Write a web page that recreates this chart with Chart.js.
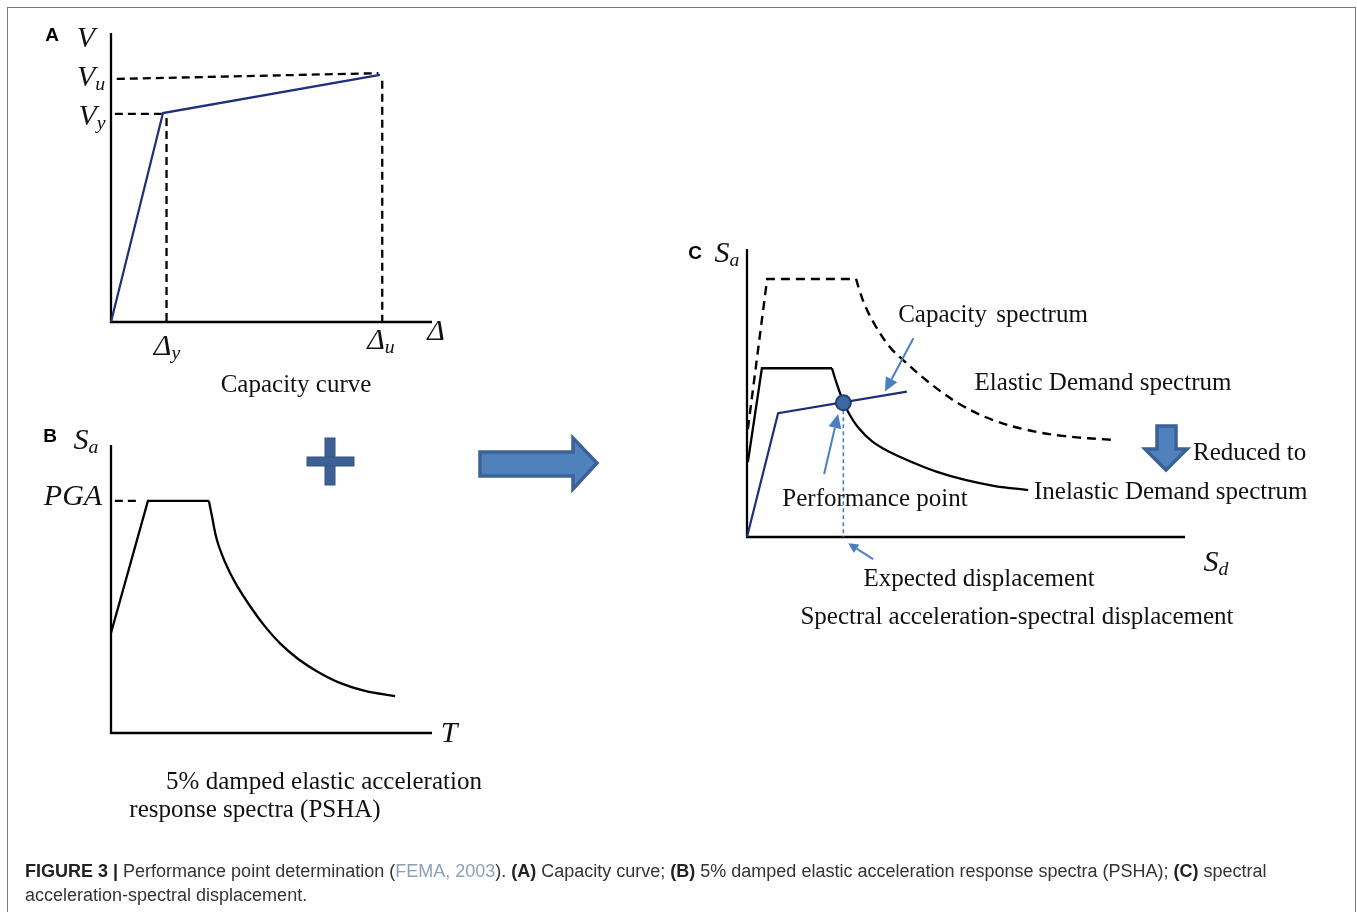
<!DOCTYPE html>
<html>
<head>
<meta charset="utf-8">
<title>Performance point determination</title>
<script src="https://cdn.jsdelivr.net/npm/chart.js@4.4.1/dist/chart.umd.min.js"></script>
<style>
  html, body { margin: 0; padding: 0; background: #fff; width: 1357px; height: 912px; overflow: hidden; }
  #frame { position: absolute; left: 7px; top: 7px; width: 1347px; height: 930px; border: 1px solid #7a7a7a; }
  canvas { position: absolute; }
  .lbl { position: absolute; transform: translate(-50%, -50%); white-space: nowrap;
         font-family: "Liberation Serif", "DejaVu Serif", serif; font-size: 25px; line-height: 1; color: #111; }
  .lbl.l { transform: translate(0, -50%); }
  .ax { font-style: italic; font-size: 30px; }
  .ax sub { font-size: 0.66em; vertical-align: -0.22em; line-height: 0; }
  .tag { position: absolute; transform: translate(-50%, -50%); font: bold 19px "Liberation Sans", Arial, sans-serif; color: #000; }
  #caption { position: absolute; left: 25px; top: 859px; width: 1320px; font-family: "Liberation Sans", Arial, sans-serif;
             font-size: 18px; line-height: 24px; color: #333; white-space: nowrap; }
  #caption b { color: #222; }
  #caption .ref { color: #8da0b9; }
  svg { position: absolute; left: 0; top: 0; }
</style>
</head>
<body>
<div id="frame"></div>

<canvas id="chartA" width="341" height="309" style="left:101px;top:23px"></canvas>
<canvas id="chartB" width="341" height="308" style="left:101px;top:435px"></canvas>
<canvas id="chartC" width="478" height="351" style="left:727px;top:229px"></canvas>

<svg width="1357" height="912">
  <!-- plus sign -->
  <rect x="325" y="438" width="10" height="47" fill="#3d6194" stroke="#34547f" stroke-width="1"/>
  <rect x="307" y="457" width="47" height="9" fill="#3d6194" stroke="#34547f" stroke-width="1"/>
  <!-- big arrow -->
  <polygon points="480,452 573,452 573,438 597,463 573,489 573,476 480,476"
           fill="#4f81bd" stroke="#3b6197" stroke-width="3.5" stroke-linejoin="miter"/>
  <!-- reduced-to arrow -->
  <polygon points="1157,426 1176,426 1176,449 1187,449 1166,470 1145,449 1157,449"
           fill="#4f81bd" stroke="#3b6197" stroke-width="3.5"/>
</svg>

<!-- panel A labels -->
<div class="tag" style="left:52px;top:35px">A</div>
<div class="lbl ax" style="left:86px;top:37px">V</div>
<div class="lbl ax" style="left:91px;top:76px">V<sub>u</sub></div>
<div class="lbl ax" style="left:92px;top:115px">V<sub>y</sub></div>
<div class="lbl ax" style="left:167px;top:345px">Δ<sub>y</sub></div>
<div class="lbl ax" style="left:381px;top:339px">Δ<sub>u</sub></div>
<div class="lbl ax" style="left:436px;top:330px">Δ</div>
<div class="lbl" style="left:296px;top:383px">Capacity curve</div>

<!-- panel B labels -->
<div class="tag" style="left:50px;top:436px">B</div>
<div class="lbl ax" style="left:86px;top:439px">S<sub>a</sub></div>
<div class="lbl ax" style="left:73px;top:495px">PGA</div>
<div class="lbl ax" style="left:449px;top:732px">T</div>
<div class="lbl" style="left:324px;top:780px">5% damped elastic acceleration</div>
<div class="lbl" style="left:255px;top:808px">response spectra (PSHA)</div>

<!-- panel C labels -->
<div class="tag" style="left:695px;top:253px">C</div>
<div class="lbl ax" style="left:727px;top:252px">S<sub>a</sub></div>
<div class="lbl ax" style="left:1216px;top:561px">S<sub>d</sub></div>
<div class="lbl" style="left:993px;top:313px;word-spacing:3px">Capacity spectrum</div>
<div class="lbl" style="left:1103px;top:381px">Elastic Demand spectrum</div>
<div class="lbl l" style="left:1193px;top:451px">Reduced to</div>
<div class="lbl l" style="left:1034px;top:490px">Inelastic Demand spectrum</div>
<div class="lbl" style="left:875px;top:497px">Performance point</div>
<div class="lbl" style="left:979px;top:577px">Expected displacement</div>
<div class="lbl" style="left:1017px;top:615px">Spectral acceleration-spectral displacement</div>

<div id="caption"><b>FIGURE 3 |</b> Performance point determination (<span class="ref">FEMA, 2003</span>). <b>(A)</b> Capacity curve; <b>(B)</b> 5% damped elastic acceleration response spectra (PSHA); <b>(C)</b> spectral<br>acceleration-spectral displacement.</div>

<script>
// All panels use a 0..100 schematic scale on both axes.

// ── Panel A: capacity curve ──────────────────────────────────────────────
const capacityCurve = [[0, 0], [16.2, 72.3], [83.8, 85.5]];
const yieldShearLine = [[1.2, 72.0], [15.8, 72.0]];
const yieldDispLine = [[17.3, 70.6], [17.3, 0]];
const ultShearLine = [[1.8, 84.1], [83.3, 86.1]];
const ultDispLine = [[84.5, 83.5], [84.5, 0]];

// ── Panel B: 5% damped elastic response spectrum ─────────────────────────
const pshaPlateau = [[0, 34.7], [11.5, 80.6], [30.5, 80.6]];
const pshaDecay = [[30.5, 80.6], [31.5, 75.0], [33.0, 67.0], [35.5, 59.4], [38.6, 52.4],
                   [42.7, 45.1], [47.4, 37.8], [52.6, 31.2], [58.3, 25.7], [64.5, 21.2],
                   [71.3, 17.4], [79.1, 14.6], [88.5, 12.8]];
const pgaLine = [[1.2, 80.6], [9.0, 80.6]];

// ── Panel C: ADRS format ─────────────────────────────────────────────────
const elasticPlateau = [[0.2, 37.5], [4.6, 89.6], [24.9, 89.6]];
const elasticDecay = [[24.9, 89.6], [25.8, 85.1], [27.2, 79.5], [29.5, 72.9], [32.6, 66.0],
                      [36.1, 60.8], [40.0, 55.6], [44.1, 50.7], [49.3, 45.5], [56.2, 40.6],
                      [63.9, 37.2], [72.1, 35.1], [83.6, 33.7]];
const inelasticPlateau = [[0.2, 26.0], [3.4, 58.6], [19.4, 58.6]];
const inelasticDecay = [[19.4, 58.6], [20.3, 54.1], [21.5, 48.9], [23.1, 43.4], [25.3, 38.2],
                        [28.5, 33.3], [32.6, 29.5], [37.7, 26.0], [43.4, 22.6], [49.8, 19.8],
                        [56.6, 17.7], [64.2, 16.3]];
const capacitySpectrum = [[0, 0], [7.1, 43.0], [36.5, 50.5]];
const performancePoint = [[22.0, 46.6]];
const expectedDispLine = [[22.0, 44.0], [22.0, 0]];
// pointer arrows: [tail, tip]
const pointerArrowsC = [
  [[38.0, 69.0], [31.5, 50.5]],
  [[17.6, 21.9], [20.8, 42.7]],
  [[28.8, -7.7], [23.1, -2.2]],
];

const NAVY = "#1d2f7a";
const BLUE = "#4a80c2";

const pts = arr => arr.map(([x, y]) => ({ x, y }));

function line(data, extra = {}) {
  return {
    data: pts(data),
    showLine: true,
    borderColor: "#000",
    borderWidth: 2.3,
    pointRadius: 0,
    tension: 0,
    fill: false,
    clip: false,
    ...extra,
  };
}
const dashed = { borderDash: [8, 5] };
const smooth = { tension: 0.4 };

// draws the L-shaped axes through the chart's own scales
const axisLines = {
  id: "axisLines",
  beforeDatasetsDraw(chart) {
    const { ctx, scales: { x, y } } = chart;
    ctx.save();
    ctx.strokeStyle = "#000";
    ctx.lineWidth = 2.3;
    ctx.beginPath();
    ctx.moveTo(x.getPixelForValue(0), y.getPixelForValue(100));
    ctx.lineTo(x.getPixelForValue(0), y.getPixelForValue(0));
    ctx.lineTo(x.getPixelForValue(100), y.getPixelForValue(0));
    ctx.stroke();
    ctx.restore();
  },
};

const pointerArrows = {
  id: "pointerArrows",
  afterDatasetsDraw(chart, args, opts) {
    if (!opts.list) return;
    const { ctx, scales: { x, y } } = chart;
    ctx.save();
    ctx.strokeStyle = opts.color;
    ctx.fillStyle = opts.color;
    ctx.lineWidth = 2;
    opts.list.forEach(([[x0, y0], [x1, y1]], i) => {
      const ax = x.getPixelForValue(x0), ay = y.getPixelForValue(y0);
      const bx = x.getPixelForValue(x1), by = y.getPixelForValue(y1);
      const ang = Math.atan2(by - ay, bx - ax);
      const len = i === 2 ? 10 : 14, half = i === 2 ? 5 : 6.5;
      const hx = bx - Math.cos(ang) * len, hy = by - Math.sin(ang) * len;
      ctx.beginPath();
      ctx.moveTo(ax, ay);
      ctx.lineTo(hx, hy);
      ctx.stroke();
      ctx.beginPath();
      ctx.moveTo(bx, by);
      ctx.lineTo(hx + Math.sin(ang) * half, hy - Math.cos(ang) * half);
      ctx.lineTo(hx - Math.sin(ang) * half, hy + Math.cos(ang) * half);
      ctx.closePath();
      ctx.fill();
    });
    ctx.restore();
  },
};

function panelOptions(padding, arrows) {
  return {
    responsive: false,
    animation: false,
    layout: { padding },
    plugins: {
      legend: { display: false },
      tooltip: { enabled: false },
      pointerArrows: arrows || {},
    },
    scales: {
      x: { type: "linear", min: 0, max: 100, display: false },
      y: { type: "linear", min: 0, max: 100, display: false },
    },
  };
}

new Chart(document.getElementById("chartA"), {
  type: "scatter",
  data: {
    datasets: [
      line(capacityCurve, { borderColor: NAVY, borderWidth: 2.2 }),
      line(yieldShearLine, dashed),
      line(yieldDispLine, dashed),
      line(ultShearLine, dashed),
      line(ultDispLine, dashed),
    ],
  },
  options: panelOptions(10),
  plugins: [axisLines],
});

new Chart(document.getElementById("chartB"), {
  type: "scatter",
  data: {
    datasets: [
      line(pshaPlateau),
      line(pshaDecay, smooth),
      line(pgaLine, dashed),
    ],
  },
  options: panelOptions(10),
  plugins: [axisLines],
});

new Chart(document.getElementById("chartC"), {
  type: "scatter",
  data: {
    datasets: [
      line(performancePoint, {
        showLine: false, pointRadius: 7.5, pointBackgroundColor: "#3b69a3",
        pointBorderColor: "#22406f", pointBorderWidth: 2,
      }),
      line(capacitySpectrum, { borderColor: NAVY, borderWidth: 2.2 }),
      line(inelasticPlateau),
      line(inelasticDecay, smooth),
      line(elasticPlateau, { borderDash: [9, 6], borderWidth: 2.4 }),
      line(elasticDecay, { ...smooth, borderDash: [9, 6], borderWidth: 2.4 }),
      line(expectedDispLine, { borderColor: BLUE, borderWidth: 1.6, borderDash: [4, 3] }),
    ],
  },
  options: panelOptions({ left: 20, top: 20, right: 20, bottom: 43 },
                        { list: pointerArrowsC, color: BLUE }),
  plugins: [axisLines, pointerArrows],
});
</script>
</body>
</html>
